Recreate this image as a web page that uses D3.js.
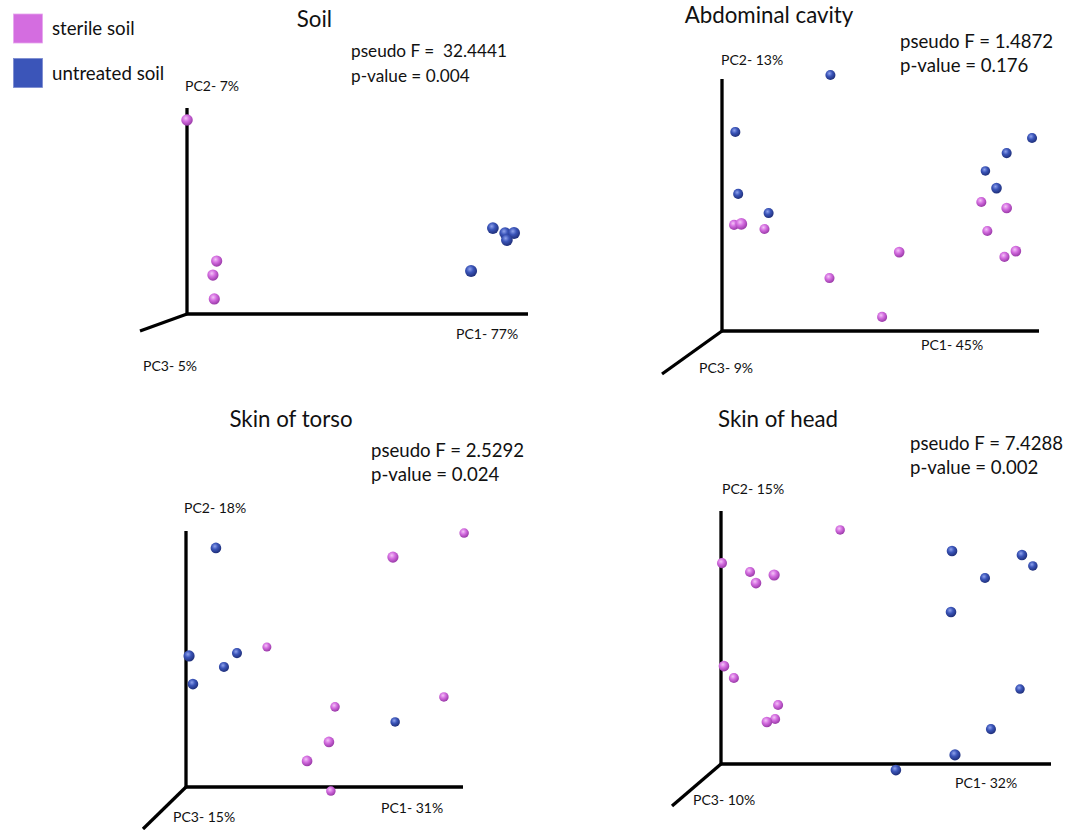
<!DOCTYPE html>
<html><head><meta charset="utf-8">
<script src="https://cdn.jsdelivr.net/npm/d3@7"></script>
<style>
html,body{margin:0;padding:0;background:#fff;}
text{font-family:Lato,"Open Sans",sans-serif;fill:#111;white-space:pre;}
</style></head>
<body>
<svg id="chart" width="1070" height="830"></svg>
<script>
// ---- data ----
const groups = ["sterile soil", "untreated soil"];
const panelTitles = ["Soil", "Abdominal cavity", "Skin of torso", "Skin of head"];
const pseudoF = ["32.4441", "1.4872", "2.5292", "7.4288"];
const pValues = ["0.004", "0.176", "0.024", "0.002"];
const pc1Labels = ["PC1- 77%", "PC1- 45%", "PC1- 31%", "PC1- 32%"];
const pc2Labels = ["PC2- 7%", "PC2- 13%", "PC2- 18%", "PC2- 15%"];
const pc3Labels = ["PC3- 5%", "PC3- 9%", "PC3- 15%", "PC3- 10%"];

// points: [PC1, PC2, PC3 depth] in projected axis units, per group
const soilSterile = [[0.00,0.942,0.55],[0.087,0.257,0.5],[0.076,0.189,0.5],[0.080,0.073,0.5]];
const soilUntreated = [[0.897,0.417,0.6],[0.933,0.393,0.6],[0.959,0.393,0.65],[0.938,0.359,0.6],[0.833,0.209,0.65]];
const abdSterile = [[0.038,0.421,0.3],[0.061,0.425,0.6],[0.134,0.405,0.3],[0.818,0.512,0.3],[0.898,0.488,0.4],[0.837,0.397,0.3],[0.559,0.313,0.4],[0.927,0.317,0.4],[0.891,0.294,0.3],[0.339,0.210,0.3],[0.505,0.056,0.3]];
const abdUntreated = [[0.342,1.016,0.3],[0.042,0.790,0.3],[0.051,0.544,0.3],[0.147,0.468,0.3],[0.978,0.766,0.3],[0.898,0.706,0.3],[0.831,0.635,0.2],[0.866,0.567,0.4]];
const torsoSterile = [[1.004,0.992,0.2],[0.747,0.898,0.5],[0.292,0.547,0.1],[0.931,0.352,0.2],[0.538,0.313,0.2],[0.516,0.176,0.4],[0.437,0.102,0.4],[0.523,-0.016,0.2]];
const torsoUntreated = [[0.108,0.934,0.4],[0.011,0.512,0.5],[0.025,0.402,0.4],[0.137,0.469,0.3],[0.184,0.523,0.3],[0.755,0.254,0.2]];
const headSterile = [[0.361,0.925,0.2],[0.003,0.794,0.3],[0.088,0.759,0.3],[0.106,0.715,0.4],[0.161,0.747,0.5],[0.009,0.387,0.4],[0.039,0.340,0.3],[0.173,0.233,0.3],[0.164,0.178,0.3],[0.139,0.166,0.4]];
const headUntreated = [[0.700,0.842,0.4],[0.912,0.826,0.4],[0.945,0.783,0.2],[0.800,0.735,0.3],[0.697,0.601,0.4],[0.906,0.296,0.2],[0.818,0.138,0.3],[0.709,0.036,0.5],[0.530,-0.024,0.4]];

const panelPoints = [
  [soilSterile, soilUntreated],
  [abdSterile, abdUntreated],
  [torsoSterile, torsoUntreated],
  [headSterile, headUntreated]
];

// ---- layout ----
const layout = [
  {ox:187, oy:314, xEnd:528, yTop:108, zx:140, zy:331, titleX:314.5, titleY:27, statX:351, statY:57, statGap:25, statSize:17.2,
   pc2:[185,91], pc1:[456,339], pc3:[143,371]},
  {ox:722, oy:331, xEnd:1039, yTop:79, zx:662, zy:374, titleX:769, titleY:22.5, statX:900, statY:48, statGap:24, statSize:18.6,
   pc2:[721,65], pc1:[921,350], pc3:[699,373]},
  {ox:186, oy:787, xEnd:463, yTop:531, zx:143, zy:829, titleX:291, titleY:427, statX:371, statY:457, statGap:24, statSize:18.6,
   pc2:[184,513], pc1:[381,813], pc3:[173,822]},
  {ox:721, oy:764, xEnd:1051, yTop:511, zx:672, zy:806, titleX:778, titleY:427, statX:910, statY:450, statGap:24, statSize:18.6,
   pc2:[722,494], pc1:[955,788], pc3:[693,805]}
];
const colors = ["#d46de0", "#3b55b9"];
const darkColors = ["#9a3aa8", "#1f2f7a"];
const lightColors = ["#f3c4f7", "#8fa2ec"];

const svg = d3.select("#chart");
const defs = svg.append("defs");
colors.forEach((c,i)=>{
  const g = defs.append("radialGradient").attr("id","sph"+i)
    .attr("cx","40%").attr("cy","35%").attr("r","65%");
  g.append("stop").attr("offset","0%").attr("stop-color",lightColors[i]);
  g.append("stop").attr("offset","45%").attr("stop-color",c);
  g.append("stop").attr("offset","100%").attr("stop-color",darkColors[i]);
});

// legend
const legend = svg.append("g");
groups.forEach((g,i)=>{
  legend.append("rect").attr("x",13.5).attr("y",14+i*44.5).attr("width",29).attr("height",29)
    .attr("fill",colors[i]).attr("stroke", i===0?"#e7a6ee":"#7a8ad0").attr("stroke-width",0.8);
  legend.append("text").attr("x",52).attr("y",35+i*45).attr("font-size",18.7).text(g);
});

const rScale = d3.scaleLinear().domain([0,1]).range([4.2,7]);

layout.forEach((L,p)=>{
  const g = svg.append("g");
  const x = d3.scaleLinear().domain([0,1]).range([L.ox, L.xEnd]);
  const y = d3.scaleLinear().domain([0,1]).range([L.oy, L.yTop]);
  const axisLine = d3.line();
  g.append("path").attr("d", axisLine([[x(0),y(1)],[x(0),y(0)],[x(1),y(0)]]))
    .attr("fill","none").attr("stroke","#000").attr("stroke-width",3.3);
  g.append("path").attr("d", axisLine([[x(0),y(0)],[L.zx,L.zy]]))
    .attr("fill","none").attr("stroke","#000").attr("stroke-width",3.3);
  g.append("text").attr("x",L.titleX).attr("y",L.titleY).attr("text-anchor","middle")
    .attr("font-size",22.3).text(panelTitles[p]);
  g.append("text").attr("x",L.statX).attr("y",L.statY).attr("font-size",L.statSize)
    .text(p===0 ? "pseudo F =  " + pseudoF[p] : "pseudo F = " + pseudoF[p]);
  g.append("text").attr("x",L.statX).attr("y",L.statY+L.statGap).attr("font-size",L.statSize)
    .text("p-value = " + pValues[p]);
  g.append("text").attr("x",L.pc2[0]).attr("y",L.pc2[1]).attr("font-size",14).text(pc2Labels[p]);
  g.append("text").attr("x",L.pc1[0]).attr("y",L.pc1[1]).attr("font-size",14).text(pc1Labels[p]);
  g.append("text").attr("x",L.pc3[0]).attr("y",L.pc3[1]).attr("font-size",14).text(pc3Labels[p]);
  panelPoints[p].forEach((pts,gi)=>{
    g.selectAll(null).data(pts).enter().append("circle")
      .attr("cx",d=>x(d[0])).attr("cy",d=>y(d[1])).attr("r",d=>rScale(d[2]))
      .attr("fill","url(#sph"+gi+")");
  });
});
</script>
</body></html>
